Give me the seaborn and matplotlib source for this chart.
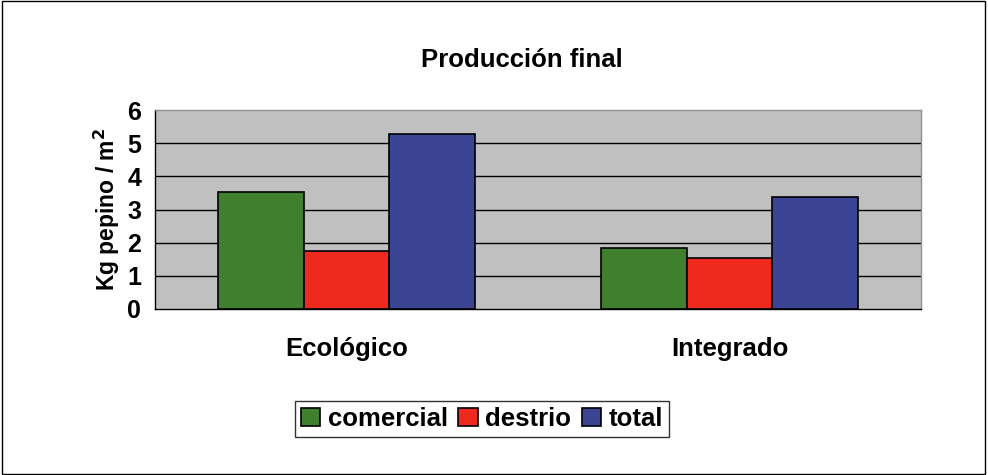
import pandas as pd
import numpy as np
import matplotlib
matplotlib.use("Agg")
import matplotlib.pyplot as plt
import seaborn as sns

# data
sistemas = ["Ecológico", "Integrado"]
series = ["comercial", "destrio", "total"]
comercial = [3.53, 1.84]
destrio = [1.75, 1.54]
total = [5.28, 3.38]
colores = ["#3F7F2E", "#EE2A1E", "#3C4494"]

df = pd.DataFrame({
    "sistema": sistemas * 3,
    "serie": [s for s in series for _ in sistemas],
    "kg": comercial + destrio + total,
})

sns.set_theme(style="white")
plt.rcParams["font.family"] = ["Liberation Sans", "DejaVu Sans"]
plt.rcParams["font.weight"] = "bold"
plt.rcParams["text.color"] = "black"
plt.rcParams["axes.labelcolor"] = "black"
plt.rcParams["xtick.color"] = "black"
plt.rcParams["ytick.color"] = "black"

fig = plt.figure(figsize=(9.88, 4.75), dpi=100)
ax = fig.add_axes([155/988, 1-309/475, (921-155)/988, (309-110)/475])
ax.set_facecolor("#C0C0C0")

sns.barplot(data=df, x="sistema", y="kg", hue="serie", palette=colores,
            width=0.67, gap=0, edgecolor="black", linewidth=1.2,
            saturation=1, ax=ax, zorder=3)

ax.set_ylim(0, 6)
ax.set_xlim(-0.5, 1.5)
ax.set_yticks(range(0, 7))
for y in range(1, 6):
    ax.axhline(y, color="black", lw=1, zorder=1)

ax.set_xticks([0, 1])
ax.set_xticklabels(sistemas, fontsize=18.5, fontweight="bold", color="black")
ax.set_xticks([-0.5, 0.5, 1.5], minor=True)
ax.tick_params(axis="x", which="major", length=0, pad=20)
ax.tick_params(axis="x", which="minor", length=6, width=1, color="black", direction="out")
ax.tick_params(axis="y", length=6, width=1, color="black", direction="out",
               labelsize=18, labelcolor="black", pad=4)
for lab in ax.get_yticklabels():
    lab.set_fontweight("bold")

ax.set_xlabel("")
ax.set_ylabel("Kg pepino / m$^\\mathbf{2}$", fontsize=16.5, fontweight="bold",
              color="black", labelpad=4)

for side in ["left", "bottom"]:
    ax.spines[side].set_color("black")
    ax.spines[side].set_linewidth(1)
for side in ["top", "right"]:
    ax.spines[side].set_color("#909090")
    ax.spines[side].set_linewidth(1)

fig.text(522/988, 1-60/475, "Producción final", ha="center", va="center",
         fontsize=18.5, fontweight="bold", color="black")

leg = ax.legend(loc="center", bbox_to_anchor=(482/988, 1-419/475),
                bbox_transform=fig.transFigure, ncol=3, frameon=True,
                fancybox=False, edgecolor="black", fontsize=18.5,
                handlelength=0.75, handleheight=0.75, handletextpad=0.3,
                columnspacing=0.4, borderpad=0.25, borderaxespad=0, title=None)
leg.get_frame().set_linewidth(1)
for t in leg.get_texts():
    t.set_fontweight("bold")
    t.set_color("black")

fig.patches.append(plt.Rectangle((0.002, 0.003), 0.995, 0.994, transform=fig.transFigure,
                                 fill=False, edgecolor="black", linewidth=1))

fig.savefig("out.png", dpi=100, facecolor="white")
